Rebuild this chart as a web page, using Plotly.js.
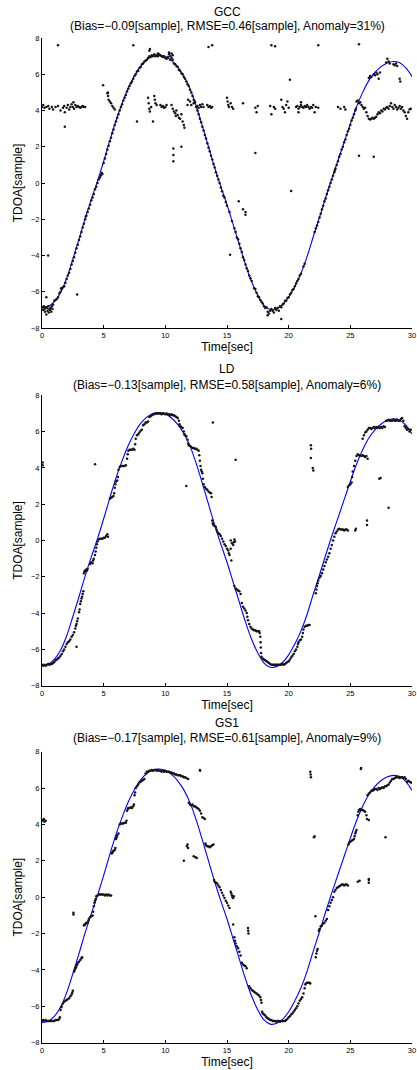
<!DOCTYPE html>
<html>
<head>
<meta charset="utf-8">
<script src="https://cdn.plot.ly/plotly-3.0.1.min.js"></script>
<style>html,body{margin:0;padding:0;background:#fff;}#chart{width:417px;height:1070px;}</style>
</head>
<body>
<div id="chart"></div>
<script>
// ---- true TDOA curve (blue) ----
const curveT = [0,0.5,1,1.5,2,2.5,3,3.5,4,4.5,5,5.5,6,6.5,7,7.5,8,8.5,9,9.5,10,10.5,11,11.5,12,12.5,13,13.5,14,14.5,15,15.5,16,16.5,17,17.5,18,18.5,19,19.5,20,20.5,21,21.5,22,22.5,23,23.5,24,24.5,25,25.5,26,26.5,27,27.5,28,28.5,29,29.5,30];
const curveY = [-6.9,-6.82,-6.55,-6.05,-5.25,-4.2,-3.1,-1.95,-0.9,0.1,1.2,2.35,3.45,4.4,5.25,5.92,6.45,6.8,7.0,7.05,6.97,6.75,6.4,5.9,5.2,4.25,3.15,2.0,0.85,-0.2,-1.2,-2.3,-3.4,-4.5,-5.45,-6.2,-6.75,-6.98,-6.95,-6.72,-6.3,-5.7,-4.98,-4.05,-2.95,-1.9,-0.8,0.25,1.25,2.25,3.25,4.2,5.0,5.65,6.1,6.42,6.62,6.7,6.63,6.35,5.87];

// ---- GCC estimates [time, tdoa] ----
const gccPoints = [
[0.05,-6.85],[0.1,-7.0],[0.15,-6.8],[0.2,-6.95],[0.25,-7.1],[0.3,-6.85],[0.35,-7.25],[0.4,-6.9],[0.45,-7.05],[0.5,-6.8],[0.55,-7.15],[0.6,-6.95],[0.65,-7.0],[0.7,-6.9],[0.75,-7.1],[0.8,-6.8],[0.85,-6.95],[0.9,-6.7],
[0.35,-6.3],[0.5,-4.0],[2.85,-6.15],
[1.0,-6.5],[1.1,-6.45],[1.2,-6.4],[1.3,-6.3],[1.4,-6.1],[1.5,-6.0],[1.55,-5.8],[1.6,-5.85],[1.7,-5.75],[1.8,-5.7],[1.9,-5.5],[2.0,-5.3],[2.1,-5.1],[2.2,-4.95],[2.3,-4.75],[2.4,-4.5],[2.5,-4.3],[2.6,-4.1],[2.7,-3.85],[2.8,-3.6],[2.9,-3.4],[3.0,-3.15],[3.1,-2.95],[3.2,-2.7],[3.3,-2.45],[3.4,-2.25],[3.5,-2.0],[3.55,-1.85],[3.6,-1.8],[3.7,-1.6],[3.8,-1.4],[3.9,-1.2],[4.0,-0.95],[4.1,-0.8],[4.2,-0.6],[4.3,-0.35],[4.4,-0.2],[4.5,0.0],[4.6,0.2],[4.7,0.3],[4.75,0.4],[4.8,0.45],[4.85,0.55],[4.9,0.5],[5.0,1.1],
[5.1,1.35],[5.2,1.6],[5.3,1.85],[5.4,2.05],[5.5,2.3],[5.6,2.5],[5.7,2.75],[5.8,2.95],[5.9,3.2],[6.0,3.4],[6.1,3.6],[6.2,3.8],[6.3,4.0],[6.4,4.2],[6.5,4.35],[6.6,4.55],[6.7,4.7],[6.8,4.85],[6.9,5.05],[7.0,5.2],[7.1,5.35],[7.2,5.5],[7.3,5.6],[7.4,5.75],[7.5,5.9],[7.6,6.0],[7.7,6.15],[7.8,6.2],[7.9,6.35],[8.0,6.4],[8.1,6.55],[8.2,6.6],[8.3,6.7],[8.4,6.75],[8.5,6.8],[8.6,6.9],[8.7,7.0],[8.8,6.95],[8.9,7.05],[9.0,7.0],[9.1,7.1],[9.2,7.0],[9.3,7.05],[9.4,7.0],[9.5,7.1],[9.6,7.05],[9.7,7.0],[9.8,6.95],[9.9,7.0],[10.0,6.9],[10.1,6.85],[10.2,6.95],[10.3,7.1],[10.4,7.0],[10.5,6.9],[10.6,6.8],[10.7,6.6],
[8.7,7.3],[8.75,7.4],[9.4,7.15],[10.3,7.2],[10.5,7.15],[10.6,7.05],[10.4,6.8],
[10.8,6.55],[10.9,6.45],[11.0,6.4],[11.1,6.25],[11.2,6.2],[11.3,6.05],[11.4,6.0],[11.5,5.85],[11.6,5.75],[11.7,5.6],[11.8,5.45],[11.9,5.35],[12.0,5.15],[12.1,5.0],[12.2,4.8],[12.3,4.6],[12.4,4.45],[12.5,4.2],[12.6,4.0],[12.7,3.8],[12.8,3.55],[12.9,3.35],[13.0,3.1],[13.1,2.9],[13.2,2.65],[13.3,2.45],[13.4,2.2],[13.5,1.95],[13.6,1.75],[13.7,1.5],[13.8,1.3],[13.9,1.05],[14.0,0.85],[14.1,0.6],[14.2,0.4],[14.3,0.2],[14.4,0.0],[14.5,-0.25],[14.6,-0.45],[14.7,-0.7],[14.8,-0.8],[14.9,-1.05],[15.0,-1.25],[15.2,-1.6],[15.4,-2.1],[15.6,-2.5],[15.7,-2.7],[15.8,-3.0],[15.9,-3.1],[16.0,-3.35],[16.1,-3.6],[16.2,-3.8],[16.3,-4.1],[16.4,-4.25],[16.5,-4.5],[16.6,-4.7],[16.7,-4.85],[16.8,-5.1],[16.9,-5.25],[17.0,-5.4],[17.2,-5.8],[17.3,-5.85],[17.4,-6.05],[17.5,-6.25],[17.6,-6.3],[17.7,-6.45],[17.8,-6.55],[17.9,-6.65],[18.0,-6.8],[18.1,-6.9],[18.2,-6.85],[18.3,-7.1],[18.4,-7.2],[18.5,-7.05],[18.6,-6.95],[18.7,-7.05],[18.8,-7.15],[18.9,-6.9],[19.0,-7.0],[19.1,-6.9],[19.2,-7.05],[19.3,-6.8],[19.4,-6.85],[19.5,-6.7],[19.6,-6.65],[19.7,-6.5],[19.8,-6.5],[19.9,-6.35],[20.0,-6.3],[20.1,-6.15],[20.2,-6.05],[20.3,-5.9],[20.4,-5.85],[20.5,-5.7],[20.6,-5.55],[20.7,-5.4],[20.8,-5.3],[20.9,-5.1],[21.0,-5.0],[21.2,-4.6],[21.3,-4.45],
[19.4,-7.5],[18.3,-7.3],[15.95,-1.0],[16.3,-1.45],[16.5,-1.6],[16.5,-1.75],[15.25,-3.96],[20.2,-0.44],
[22.1,-2.7],[22.2,-2.5],[22.3,-2.35],[22.4,-2.15],[22.5,-1.9],[22.6,-1.7],[22.7,-1.45],[22.8,-1.25],[22.9,-1.0],[23.0,-0.85],[23.1,-0.6],[23.2,-0.4],[23.3,-0.2],[23.4,0.0],[23.5,0.2],[23.6,0.4],[23.7,0.6],[23.75,0.7],[23.8,0.8],[23.9,1.0],[24.0,1.2],[24.1,1.45],[24.2,1.6],[24.3,1.85],[24.4,2.0],[24.5,2.25],[24.6,2.4],[24.7,2.65],[24.8,2.85],[24.9,3.0],[25.0,3.2],[25.1,3.45],[25.2,3.6],[25.3,3.8],[25.4,4.0],[25.45,4.1],
[25.5,4.5],[25.6,4.55],[25.7,4.4],[25.8,4.45],[25.9,4.3],[26.0,4.2],[26.1,4.1],[26.2,4.15],[26.3,3.9],[26.4,3.7],[26.5,3.55],[26.6,3.5],[26.7,3.55],[26.8,3.6],[26.9,3.55],[27.0,3.6],[27.1,3.65],[27.2,3.8],[27.3,3.9],[27.4,3.85],[27.5,4.0],[27.6,3.95],[27.7,4.1],[27.8,4.05],[27.9,4.15],[28.0,4.2],[28.1,4.1],[28.2,4.25],[28.3,4.4],[28.4,4.2],[28.5,4.1],[28.6,4.3],[28.7,4.2],[28.8,4.05],[28.9,4.15],[29.0,4.25],[29.1,4.1],[29.2,4.2],[29.3,4.0],[29.4,3.9],[29.5,3.7],[29.6,3.55],[29.7,3.9],[29.8,4.05],[29.9,4.1],
[26.5,5.8],[26.6,5.9],[26.7,5.85],[26.9,6.0],[27.0,5.95],[27.1,6.1],[27.2,6.0],[27.3,5.75],[27.4,6.1],[27.9,6.65],[28.0,6.85],[28.1,6.7],[28.2,6.6],[28.5,6.55],[28.6,6.5],[28.7,6.6],[28.8,6.45],[29.0,5.75],[29.05,5.6],
[0.0,4.2],[0.1,4.3],[0.2,4.15],[0.35,4.2],[0.5,4.25],[0.6,4.1],[0.8,4.2],[0.9,4.05],[1.1,4.2],[1.3,4.25],[1.5,4.0],[1.7,4.15],[1.8,4.25],[2.0,4.15],[2.1,4.3],[2.2,4.05],[2.3,4.2],[2.4,4.35],[2.5,4.2],[2.6,4.1],[2.7,4.3],[2.8,4.2],[2.9,4.25],[3.0,4.2],[3.1,4.15],[3.2,4.2],[3.3,4.25],[3.4,4.2],[3.5,4.2],[2.55,4.45],[1.85,3.9],
[1.3,7.6],[1.85,3.1],[4.95,5.4],
[5.3,4.95],[5.35,4.8],[5.4,4.6],[5.5,4.5],[5.6,4.4],[5.7,4.25],[5.8,4.15],[5.9,4.05],[5.35,5.0],
[7.4,7.6],[7.7,3.4],[8.6,4.7],[8.65,4.4],[8.7,4.1],[8.75,3.95],[8.85,4.2],[9.0,3.4],[9.1,4.8],[9.15,4.6],[9.2,4.4],[9.3,4.3],[9.6,4.3],[9.7,4.2],[9.8,4.25],[9.9,4.15],[10.0,4.2],[10.1,4.3],[10.5,4.3],[10.6,4.1],[10.7,3.95],[10.8,3.85],[10.85,3.7],[10.9,4.0],[11.0,3.75],[11.1,3.6],[11.2,3.55],[11.3,3.8],[11.4,3.4],[11.5,3.2],[11.55,3.05],[10.65,1.9],[10.65,1.55],[10.65,1.2],[11.3,2.0],[11.8,4.3],[11.85,4.6],[12.0,4.5],[12.1,4.3],[12.3,4.4],[12.4,4.5],[12.5,4.2],[12.6,4.25],[12.7,4.15],[12.8,4.3],[12.9,4.2],[13.0,4.35],[13.1,4.2],[13.4,4.3],[13.5,4.2],[13.6,4.25],[13.7,4.15],[13.8,4.2],[13.5,7.5],[13.8,7.6],
[15.0,4.7],[15.05,4.5],[15.1,4.3],[15.15,4.2],[15.3,4.4],[15.4,4.2],[15.5,4.1],[16.3,4.4],[17.3,4.15],[17.5,4.25],[17.4,3.9],[18.5,4.25],[18.6,3.8],[18.8,4.2],[18.9,4.1],[18.6,7.6],[18.9,7.55],
[19.4,4.6],[19.5,4.2],[19.6,4.1],[19.8,4.3],[19.9,4.5],[20.0,4.15],[19.7,3.9],[20.1,5.7],
[20.6,4.2],[20.7,4.25],[20.8,4.1],[20.9,4.2],[21.0,4.3],[21.1,4.2],[21.2,4.15],[21.3,4.25],[21.4,4.2],[21.5,4.3],[21.6,4.2],[21.7,4.1],[21.8,4.2],[21.9,4.15],[22.0,4.3],[22.2,4.2],[22.4,4.15],[20.8,3.9],[21.0,4.45],[22.1,3.9],
[22.4,7.6],[17.3,1.65],[24.0,4.2],[24.2,4.1],[24.5,4.2],[24.6,4.05],[25.7,7.65],[25.7,1.5],[26.9,1.45]
];

// ---- LD estimates [time, tdoa] ----
const ldPoints = [
[0.0,-6.85],[0.1,-6.9],[0.2,-6.85],[0.3,-6.9],[0.4,-6.85],[0.5,-6.8],[0.6,-6.85],[0.7,-6.8],[0.8,-6.8],[0.9,-6.75],
[1.0,-6.7],[1.1,-6.6],[1.2,-6.55],[1.3,-6.5],[1.4,-6.45],[1.5,-6.35],[1.6,-6.25],[1.7,-6.1],[1.8,-6.0],[1.9,-5.85],[2.0,-5.7],[2.1,-5.6],[2.2,-5.55],[2.3,-5.45],[2.4,-5.3],[2.5,-5.2],[2.6,-5.05],[2.7,-4.85],[2.75,-4.7],[2.8,-4.6],[2.85,-4.45],[2.9,-4.3],[2.8,-5.85],
[3.0,-3.95],[3.05,-3.8],[3.1,-3.5],[3.15,-3.35],[3.2,-3.2],[3.25,-3.1],[3.3,-2.95],[3.35,-2.8],
[3.4,-1.8],[3.45,-1.7],[3.5,-1.65],[3.55,-1.7],[3.6,-1.6],[3.65,-1.65],[3.7,-1.55],[3.9,-1.3],[4.0,-1.2],[4.1,-1.25],[4.15,-1.1],[4.2,-1.0],
[4.3,-0.8],[4.35,-0.6],[4.4,-0.4],[4.45,-0.2],[4.5,-0.05],[4.6,0.05],[4.7,0.1],[4.8,0.1],[4.9,0.1],[5.0,0.15],[5.1,0.15],[5.2,0.25],[5.3,0.35],[5.35,0.2],
[5.5,2.3],[5.6,2.35],[5.7,2.4],[5.8,2.45],[5.85,2.6],[5.9,2.9],[5.95,3.1],[6.0,3.25],[6.1,3.3],[6.15,3.5],[6.2,3.9],[6.3,4.05],[6.4,4.1],[6.5,4.1],[6.6,4.1],[6.7,4.1],[6.8,4.15],[6.9,4.5],[6.95,4.75],[7.0,4.95],
[7.1,5.0],[7.2,5.0],[7.3,5.0],[7.4,5.05],[7.5,5.0],[7.55,5.3],[7.6,5.6],[7.7,5.8],[7.8,5.85],[7.9,5.95],[8.0,6.05],[8.1,6.1],[8.2,6.35],[8.3,6.4],[8.4,6.5],[8.5,6.5],[8.6,6.55],
[8.7,6.8],[8.8,6.85],[8.9,6.9],[9.0,6.95],[9.1,6.95],[9.2,7.0],[9.3,7.0],[9.4,7.0],[9.5,7.0],[9.6,7.0],[9.7,6.95],[9.8,7.0],[9.9,7.0],[10.0,6.95],[10.1,7.0],[10.2,6.95],[10.3,6.95],[10.4,6.9],[10.5,6.95],[10.6,6.9],[10.7,6.9],[10.8,6.85],
[10.9,6.8],[11.0,6.75],[11.1,6.6],[11.15,6.4],[11.2,6.3],[11.3,6.25],[11.4,6.2],[11.5,6.0],[11.55,5.85],[11.6,5.8],[11.7,5.75],[11.8,5.55],[11.85,5.35],[11.9,5.25],[12.0,5.2],[12.1,5.15],[12.2,5.1],[12.3,5.1],[12.4,5.05],[12.5,5.05],[12.6,5.0],[12.7,4.95],[12.75,4.7],[12.8,4.4],[12.85,4.1],[12.9,3.9],[12.95,3.8],[13.0,3.7],[13.05,3.4],[13.1,3.1],[13.2,2.95],[13.3,2.85],[13.4,2.8],[13.5,2.7],[13.6,2.65],[13.7,2.6],[13.75,2.4],
[13.8,1.1],[13.85,0.95],[13.9,0.85],[14.0,0.8],[14.1,0.75],[14.15,0.6],[14.2,0.5],[14.3,0.4],[14.4,0.35],[14.5,0.25],[14.6,0.1],[14.7,-0.05],[14.8,-0.2],[14.9,-0.3],[15.0,-0.45],[15.1,-0.55],[15.15,-0.7],[15.2,-0.8],
[15.3,0.0],[15.4,-0.15],[15.5,-0.25],[15.55,-0.1],[15.6,0.05],[15.65,-0.05],[15.35,-1.1],[15.3,-0.45],
[15.6,-2.5],[15.7,-2.65],[15.8,-2.7],[15.9,-2.75],[16.0,-2.8],[16.1,-2.95],[16.2,-3.45],[16.3,-3.65],[16.4,-3.75],[16.5,-3.85],[16.6,-4.0],[16.65,-4.2],[16.7,-4.4],[16.8,-4.6],[16.9,-4.75],
[17.0,-4.85],[17.1,-4.9],[17.2,-4.95],[17.3,-4.95],[17.4,-5.0],[17.5,-5.0],[17.6,-5.0],[17.65,-5.1],[17.7,-5.3],[17.72,-5.6],[17.74,-5.9],[17.76,-6.2],[17.8,-6.4],[17.9,-6.5],[18.0,-6.55],[18.1,-6.6],[18.2,-6.65],[18.3,-6.7],[18.4,-6.75],[18.5,-6.8],[18.6,-6.85],[18.7,-6.85],[18.8,-6.85],[18.9,-6.85],[19.0,-6.85],[19.1,-6.85],[19.2,-6.85],[19.3,-6.85],[19.4,-6.85],[19.5,-6.8],[19.6,-6.85],[19.7,-6.8],[19.8,-6.75],[19.9,-6.7],[20.0,-6.65],[20.1,-6.55],[20.2,-6.45],[20.3,-6.35],[20.4,-6.25],[20.5,-6.1],[20.6,-6.0],[20.7,-5.85],[20.75,-5.7],
[20.8,-5.6],[20.9,-5.5],[21.0,-5.45],[21.1,-5.3],[21.15,-5.1],[21.2,-4.9],[21.3,-4.75],[21.4,-4.7],[21.5,-4.7],[21.6,-4.65],[21.7,-4.65],
[22.2,-2.9],[22.25,-2.7],[22.3,-2.5],[22.35,-2.35],[22.4,-2.2],[22.5,-2.05],[22.6,-1.95],[22.7,-1.8],[22.8,-1.6],[22.9,-1.4],[23.0,-1.2],[23.1,-1.05],[23.2,-0.9],[23.3,-0.7],[23.4,-0.45],[23.5,-0.25],[23.6,0.0],[23.7,0.2],[23.8,0.4],[23.9,0.5],[24.0,0.6],[24.1,0.65],[24.2,0.6],[24.3,0.6],[24.4,0.6],[24.5,0.55],[24.6,0.6],[24.7,0.6],[24.8,0.55],[25.4,0.55],[25.45,0.65],[26.35,1.1],[26.35,0.85],
[24.8,2.95],[24.9,3.05],[25.0,3.1],[25.1,3.2],[25.15,3.5],[25.2,3.8],[25.3,4.1],[25.4,4.4],[25.5,4.65],[25.6,4.75],[25.7,4.7],[25.8,4.7],[25.9,4.65],[26.0,4.7],[26.1,4.65],[26.2,4.6],[26.3,4.65],[26.4,4.5],
[26.0,5.6],[26.1,5.8],[26.2,5.95],[26.3,6.0],[26.4,6.1],[26.5,6.2],[26.6,6.2],[26.7,6.15],[26.8,6.2],[26.9,6.25],[27.0,6.2],[27.1,6.25],[27.2,6.2],[27.3,6.25],[27.4,6.2],[27.5,6.25],[27.6,6.2],[27.7,6.3],[27.8,6.25],
[27.9,6.6],[28.0,6.6],[28.1,6.65],[28.2,6.6],[28.3,6.6],[28.4,6.6],[28.5,6.65],[28.6,6.6],[28.7,6.6],[28.8,6.65],[28.9,6.6],[29.0,6.6],[29.1,6.7],[29.2,6.75],[29.3,6.6],[29.4,6.3],[29.5,6.2],[29.6,6.1],[29.7,6.15],[29.8,6.0],[29.9,6.1],
[0.05,4.3],[0.05,4.15],[4.3,4.2],[13.85,6.5],[15.7,4.45],[11.7,3.0],[21.8,5.25],[21.82,5.05],[21.8,4.55],[21.95,4.0],[22.0,3.85],[27.35,3.4],[27.45,3.45],[28.1,1.8]
];

// ---- GS1 estimates [time, tdoa] ----
const gs1Points = [
[0.0,-6.8],[0.1,-6.75],[0.2,-6.8],[0.3,-6.75],[0.4,-6.8],[0.5,-6.8],[0.6,-6.8],[0.7,-6.8],[0.8,-6.8],[0.9,-6.8],[1.0,-6.8],[1.1,-6.75],[1.2,-6.75],[1.3,-6.75],[1.4,-6.7],[1.45,-6.6],
[1.5,-6.2],[1.55,-6.05],[1.6,-6.0],[1.7,-5.85],[1.8,-5.75],[1.9,-5.7],[2.0,-5.65],[2.1,-5.6],[2.2,-5.55],[2.3,-5.45],[2.4,-5.35],[2.45,-5.25],[2.5,-5.15],
[2.55,-0.95],[2.55,-0.85],
[2.6,-4.1],[2.65,-4.0],[2.7,-3.9],[2.75,-3.85],[2.8,-3.75],[2.85,-3.7],[2.9,-3.6],[3.0,-3.55],[3.1,-3.45],[3.2,-3.35],[3.25,-3.3],
[3.4,-1.55],[3.45,-1.5],[3.5,-1.5],[3.55,-1.45],[3.6,-1.4],[3.7,-1.4],[3.75,-1.3],[3.8,-1.2],[3.9,-1.1],[4.0,-1.05],[4.1,-1.0],[4.15,-0.8],[4.2,-0.5],[4.25,-0.3],[4.3,-0.2],[4.35,-0.1],[4.4,0.05],[4.5,0.1],[4.6,0.15],[4.7,0.15],[4.8,0.15],[4.9,0.15],[5.0,0.15],[5.1,0.1],[5.2,0.15],[5.3,0.1],[5.4,0.15],[5.5,0.1],[5.6,0.1],
[5.65,2.4],[5.7,2.45],[5.75,2.5],[5.8,2.55],[5.9,2.6],[5.95,2.7],[6.0,3.2],[6.05,3.3],[6.1,3.4],[6.2,3.5],[6.3,4.0],[6.4,4.05],[6.5,4.05],[6.6,4.05],[6.7,4.1],[6.8,4.1],[6.85,4.2],[6.9,4.75],[6.95,4.85],[7.0,4.9],[7.1,4.9],[7.2,4.95],[7.3,4.9],[7.4,5.0],[7.45,5.1],
[7.5,5.6],[7.55,5.75],[7.6,6.0],[7.7,6.1],[7.8,6.2],[7.9,6.3],[8.0,6.35],[8.1,6.4],[8.2,6.45],[8.3,6.5],[8.4,6.8],[8.5,6.9],[8.6,6.9],[8.7,6.95],[8.8,6.95],[8.9,7.0],[9.0,6.95],[9.1,7.0],[9.2,7.0],[9.3,6.95],[9.4,7.0],[9.5,6.95],[9.6,6.95],[9.7,6.9],[9.8,6.95],[9.9,6.9],[10.0,6.95],[10.1,6.9],[10.2,6.9],[10.3,6.9],[10.4,6.85],[10.5,6.85],[10.6,6.8],[10.7,6.8],[10.8,6.75],[10.9,6.75],[11.0,6.7],[11.1,6.7],[11.2,6.7],[11.3,6.65],[11.4,6.65],[11.5,6.6],[11.6,6.6],[11.7,6.55],[11.85,6.5],
[11.9,5.2],[12.0,5.1],[12.1,5.05],[12.2,5.1],[12.3,5.0],[12.4,5.0],[12.5,4.95],[12.6,4.9],[12.7,4.85],[12.8,4.75],[12.9,4.6],[13.0,4.4],[13.1,4.35],[13.2,4.3],
[13.25,2.95],[13.3,2.85],[13.4,2.8],[13.5,2.8],[13.6,2.75],[13.7,2.8],[13.8,2.85],[13.9,2.9],
[13.95,0.95],[14.0,0.85],[14.1,0.8],[14.2,0.75],[14.3,0.65],[14.4,0.55],[14.5,0.4],[14.6,0.25],[14.7,0.1],[14.8,-0.05],[14.9,-0.2],[15.0,-0.3],[15.1,-0.45],[15.2,-0.6],
[15.3,0.3],[15.35,0.2],[15.4,0.1],[15.45,0.0],[15.5,-0.05],[15.55,0.05],[15.5,-1.5],
[15.6,-2.2],[15.65,-2.4],[15.7,-2.55],[15.8,-2.7],[15.9,-2.8],[16.0,-3.0],[16.1,-3.2],[16.2,-3.6],[16.3,-3.7],[16.4,-3.75],[16.5,-3.8],[16.6,-3.9],[16.7,-1.7],[16.72,-1.85],[16.74,-2.0],
[16.8,-4.9],[16.9,-5.0],[17.0,-5.1],[17.1,-5.15],[17.2,-5.2],[17.3,-5.25],[17.4,-5.3],[17.5,-5.35],[17.6,-5.4],[17.7,-5.5],[17.75,-5.65],[17.8,-5.8],
[17.85,-6.3],[17.9,-6.4],[18.0,-6.45],[18.1,-6.5],[18.2,-6.6],[18.3,-6.65],[18.4,-6.7],[18.5,-6.75],[18.6,-6.75],[18.7,-6.8],[18.8,-6.8],[18.9,-6.8],[19.0,-6.85],[19.1,-6.8],[19.2,-6.8],[19.3,-6.85],[19.4,-6.8],[19.5,-6.8],[19.6,-6.8],[19.7,-6.8],[19.8,-6.75],[19.9,-6.7],[20.0,-6.6],[20.1,-6.55],[20.2,-6.45],[20.3,-6.4],[20.4,-6.3],[20.5,-6.2],[20.6,-6.1],[20.7,-6.0],[20.8,-5.85],[20.9,-5.7],[21.0,-5.6],[21.1,-5.5],[21.2,-5.3],[21.3,-5.0],[21.35,-4.8],[21.4,-4.75],[21.5,-4.7],[21.6,-4.7],[21.7,-4.7],[21.75,-4.75],
[22.2,-3.3],[22.25,-3.1],[22.3,-2.95],[22.35,-2.85],[22.17,-1.05],
[22.45,-1.85],[22.5,-1.75],[22.6,-1.6],[22.7,-1.55],[22.8,-1.45],[22.9,-1.4],[23.0,-1.3],[23.1,-1.2],[23.2,-0.7],[23.3,-0.5],[23.4,-0.3],[23.5,-0.15],[23.6,0.0],[23.7,0.3],[23.8,0.4],[23.9,0.5],[24.0,0.55],[24.1,0.6],[24.2,0.65],[24.3,0.7],[24.4,0.7],[24.5,0.65],[24.6,0.7],[24.7,0.7],[24.8,0.65],[25.6,0.85],[25.75,0.9],[26.5,0.95],[26.5,0.8],
[24.85,2.9],[24.9,3.0],[25.0,3.05],[25.1,3.1],[25.2,3.15],[25.3,3.2],[25.35,3.35],[25.4,3.5],[25.45,3.6],[25.5,3.7],
[25.6,4.5],[25.65,4.7],[25.7,4.8],[25.8,4.85],[25.9,4.8],[26.0,4.8],[26.1,4.75],[26.2,4.7],[26.3,4.5],[26.35,4.3],[26.5,4.25],
[26.4,5.6],[26.5,5.7],[26.6,5.75],[26.7,5.85],[26.8,5.85],[26.9,5.9],[27.0,5.95],[27.1,5.95],[27.2,5.9],[27.3,6.0],[27.4,5.95],[27.5,6.0],[27.6,6.05],[27.7,6.0],[27.8,6.1],[27.9,6.1],[28.0,6.15],[28.1,6.2],[28.2,6.3],[28.3,6.4],[28.4,6.5],[28.5,6.5],[28.6,6.55],[28.7,6.6],[28.8,6.6],[28.9,6.6],[29.0,6.55],[29.1,6.6],[29.2,6.6],[29.3,6.55],[29.4,6.6],[29.5,6.5],[29.6,6.35],[29.7,6.4],[29.8,6.35],[29.9,6.3],[30.0,6.3],
[0.0,4.2],[0.1,4.25],[0.15,4.3],[0.2,4.15],[0.3,4.2],[12.8,7.0],[12.82,6.95],[11.75,2.8],[11.8,2.9],[11.85,2.7],[11.5,2.0],[12.3,2.25],[12.45,2.2],[12.55,2.15],[21.75,6.9],[21.78,6.75],[21.8,6.6],[22.05,3.3],[22.1,3.35],[25.85,7.05],[25.88,7.1],[27.85,3.3],[26.5,1.0]
];

const panelNames = ['GCC','LD','GS1'];
const panelStats = [
  '(Bias=\u22120.09[sample], RMSE=0.46[sample], Anomaly=31%)',
  '(Bias=\u22120.13[sample], RMSE=0.58[sample], Anomaly=6%)',
  '(Bias=\u22120.17[sample], RMSE=0.61[sample], Anomaly=9%)'
];
const xTickVals = [0,5,10,15,20,25,30];
const yTickVals = [-8,-6,-4,-2,0,2,4,6,8];

// ---- build ----
const FONT = 'Liberation Sans, Arial, Helvetica, sans-serif';
const H = 1070, MT = 38, MB = 27;
const paperH = H - MT - MB;
const py2paper = py => (H - MB - py) / paperH;
const panels = [
  {pts: gccPoints, top: 38, bottom: 328, t1: 12.5, t2: 26},
  {pts: ldPoints, top: 395.3, bottom: 685.7, t1: 369, t2: 385},
  {pts: gs1Points, top: 751.7, bottom: 1042.7, t1: 722.5, t2: 738}
];

const data = [];
const layout = {
  width: 417, height: H,
  margin: {l: 42, r: 5, t: MT, b: MB},
  paper_bgcolor: '#fff', plot_bgcolor: '#fff',
  showlegend: false,
  font: {family: FONT, color: '#000'},
  annotations: []
};

panels.forEach((p, i) => {
  const s = i === 0 ? '' : String(i + 1);
  data.push({
    type: 'scatter', mode: 'lines', x: curveT, y: curveY,
    xaxis: 'x' + s, yaxis: 'y' + s,
    line: {color: '#0000ff', width: 1.1, shape: 'spline', smoothing: 1},
    hoverinfo: 'skip'
  });
  data.push({
    type: 'scatter', mode: 'markers',
    x: p.pts.map(q => q[0]), y: p.pts.map(q => q[1]),
    xaxis: 'x' + s, yaxis: 'y' + s,
    marker: {color: '#151515', size: 2.5, line: {width: 0}}
  });
  const common = {
    showline: true, linecolor: '#000', linewidth: 1,
    ticks: 'inside', ticklen: 3, tickwidth: 1, tickcolor: '#000',
    showgrid: false, zeroline: false, mirror: false,
    tickfont: {family: FONT, size: 7.5, color: '#000'}
  };
  layout['xaxis' + s] = Object.assign({}, common, {
    domain: [0, 1], range: [0, 30], anchor: 'y' + s,
    tickvals: xTickVals,
    title: {text: 'Time[sec]', font: {family: FONT, size: 12}, standoff: 3}
  });
  layout['yaxis' + s] = Object.assign({}, common, {
    domain: [py2paper(p.bottom), py2paper(p.top)], range: [-8, 8], anchor: 'x' + s,
    tickvals: yTickVals,
    title: {text: 'TDOA[sample]', font: {family: FONT, size: 12}, standoff: 5}
  });
  layout.annotations.push({
    xref: 'paper', yref: 'paper', x: 0.5, y: py2paper(p.t1),
    xanchor: 'center', yanchor: 'middle', showarrow: false,
    text: panelNames[i], font: {family: FONT, size: 12, color: '#000'}
  });
  layout.annotations.push({
    xref: 'paper', yref: 'paper', x: 0.5, y: py2paper(p.t2),
    xanchor: 'center', yanchor: 'middle', showarrow: false,
    text: panelStats[i], font: {family: FONT, size: 12, color: '#000'}
  });
});

Plotly.newPlot('chart', data, layout, {staticPlot: true, displayModeBar: false});
</script>
</body>
</html>
